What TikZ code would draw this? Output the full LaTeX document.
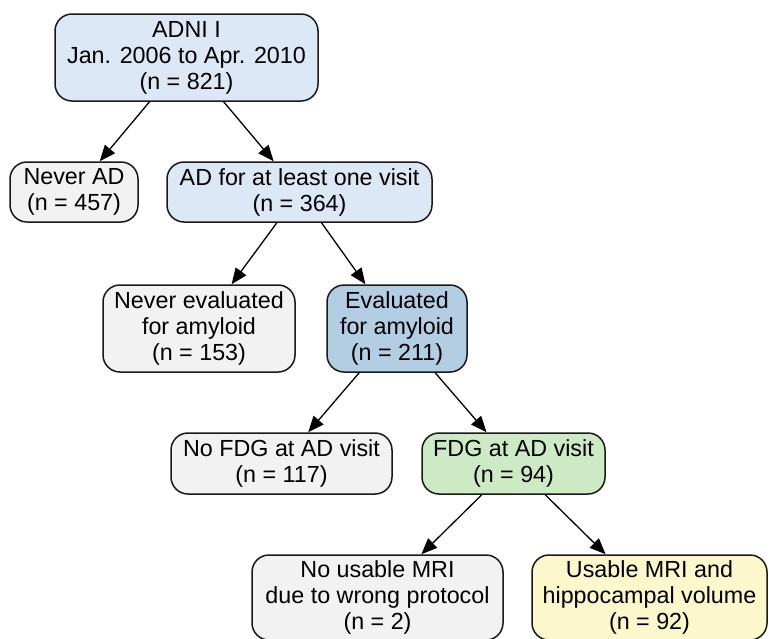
\documentclass[tikz,border=0pt]{standalone}
\usepackage{fontspec}
\setmainfont{Liberation Sans}
\usetikzlibrary{arrows.meta}
\definecolor{lblue}{HTML}{DCE8F5}
\definecolor{mblue}{HTML}{B3CDE3}
\definecolor{lgray}{HTML}{F2F2F2}
\definecolor{lgreen}{HTML}{CCEBC5}
\definecolor{lyellow}{HTML}{FCF8CC}
\begin{document}
\begin{tikzpicture}[x=1pt,y=-1pt,
  box/.style={draw=black!90, line width=1.5pt, rounded corners=17pt, align=center,
    inner sep=0pt, font=\fontsize{23.3}{26}\selectfont, text=black},
  arr/.style={-{Triangle[length=16pt,width=13pt]}, line width=1.3pt, draw=black}]
\useasboundingbox (0,0) rectangle (769,638);
\clip (0,0) rectangle (769,638);
\fill[white] (0,0) rectangle (769,638);
\node[box, fill=lblue, minimum width=263pt, minimum height=87pt] (adni) at (186.5,57.5)
  {ADNI I\\Jan. 2006 to Apr. 2010\\(n = 821)};
\node[box, fill=lgray, minimum width=128pt, minimum height=60pt] (neverad) at (74,192)
  {Never AD\\(n = 457)};
\node[box, fill=lblue, minimum width=265pt, minimum height=60pt] (ad) at (299.5,192)
  {AD for at least one visit\\(n = 364)};
\node[box, fill=lgray, minimum width=192pt, minimum height=87pt] (neverev) at (199,328.5)
  {Never evaluated\\for amyloid\\(n = 153)};
\node[box, fill=mblue, minimum width=140pt, minimum height=87pt] (ev) at (397,328.5)
  {Evaluated\\for amyloid\\(n = 211)};
\node[box, fill=lgray, minimum width=221pt, minimum height=61pt] (nofdg) at (281.5,463.5)
  {No FDG at AD visit\\(n = 117)};
\node[box, fill=lgreen, minimum width=183pt, minimum height=61pt] (fdg) at (513.5,463.5)
  {FDG at AD visit\\(n = 94)};
\node[box, fill=lgray, minimum width=251pt, minimum height=85pt] (nomri) at (377.5,597.5)
  {No usable MRI\\due to wrong protocol\\(n = 2)};
\node[box, fill=lyellow, minimum width=235pt, minimum height=85pt] (usable) at (649.5,597.5)
  {Usable MRI and\\hippocampal volume\\(n = 92)};
\draw[arr] (adni) -- (neverad);
\draw[arr] (adni) -- (ad);
\draw[arr] (ad) -- (neverev);
\draw[arr] (ad) -- (ev);
\draw[arr] (ev) -- (nofdg);
\draw[arr] (ev) -- (fdg);
\draw[arr] (fdg) -- (nomri);
\draw[arr] (fdg) -- (usable);
\end{tikzpicture}
\end{document}
